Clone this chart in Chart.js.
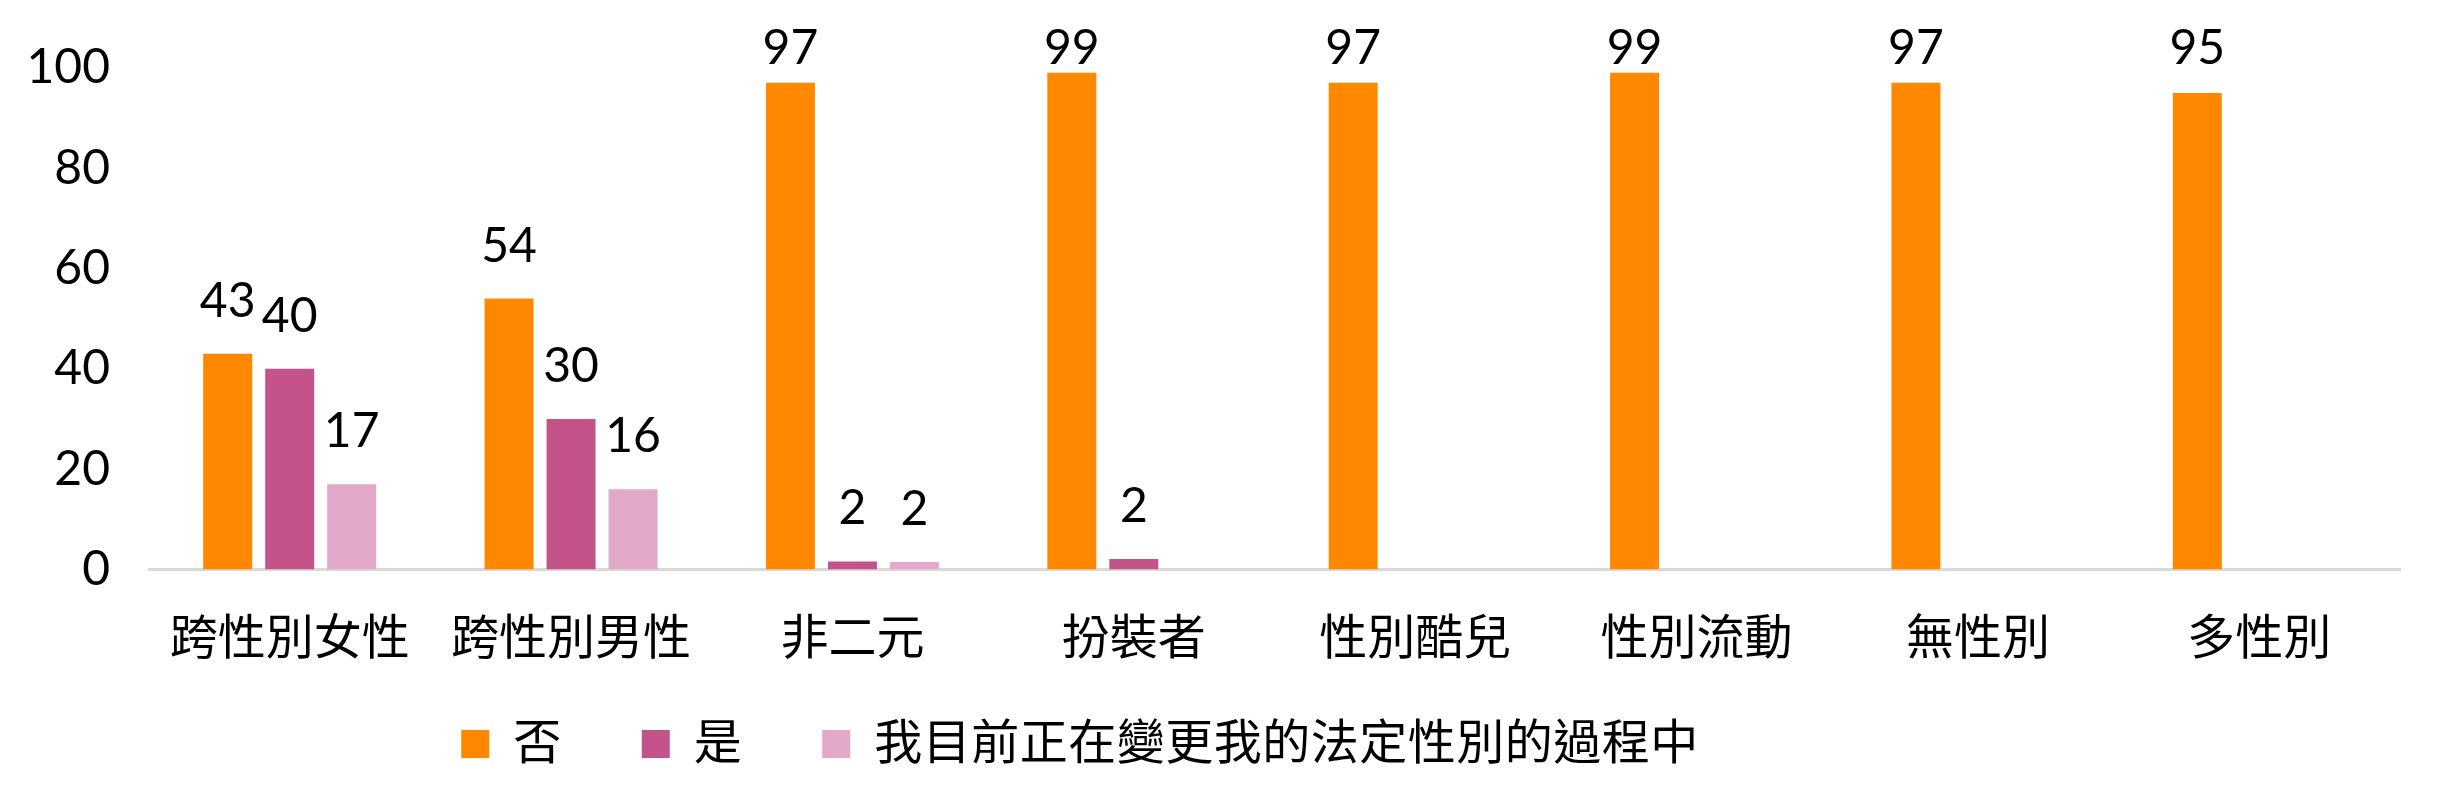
<!DOCTYPE html>
<html>
<head>
<meta charset="utf-8">
<script src="https://cdn.jsdelivr.net/npm/chart.js@4.4.1/dist/chart.umd.min.js"></script>
<style>
  html, body { margin: 0; padding: 0; background: #ffffff; }
  #wrap { width: 2440px; height: 807px; position: relative; }
</style>
</head>
<body>
<div id="wrap"><canvas id="c"></canvas></div>
<script>
// ---- data ----
const categories = ['跨性別女性', '跨性別男性', '非二元', '扮裝者', '性別酷兒', '性別流動', '無性別', '多性別'];
const seriesNames = ['否', '是', '我目前正在變更我的法定性別的過程中'];
const valuesNo = [43, 54, 97, 99, 97, 99, 97, 95];
const valuesYes = [40, 30, 1.6, 2.1, null, null, null, null];
const valuesInProcess = [17, 16, 1.5, null, null, null, null, null];
const yTickValues = [0, 20, 40, 60, 80, 100];

// ---- styles ----
const seriesColors = ['#FF8800', '#C4538A', '#E2A9C9'];
const FONT_FAMILY = 'Lato, "Noto Sans CJK TC", "Noto Sans", sans-serif';
const FONT_SIZE = 48;

const valueLabels = {
  id: 'valueLabels',
  afterDatasetsDraw(chart) {
    const ctx = chart.ctx;
    ctx.save();
    ctx.font = FONT_SIZE + 'px ' + FONT_FAMILY;
    ctx.fillStyle = '#000000';
    ctx.textAlign = 'center';
    ctx.textBaseline = 'alphabetic';
    chart.data.datasets.forEach((ds, i) => {
      const meta = chart.getDatasetMeta(i);
      meta.data.forEach((bar, j) => {
        const v = ds.data[j];
        if (v === null || v === undefined) return;
        const y = Math.max(bar.y - 37, chart.chartArea.top - 4);
        ctx.fillText(String(Math.round(v)), bar.x, y);
      });
    });
    ctx.restore();
  }
};

const legendSpacing = {
  id: 'legendSpacing',
  afterInit(chart) {
    const lg = chart.legend;
    if (!lg) return;
    ['fit', 'draw'].forEach(name => {
      const orig = lg[name];
      lg[name] = function (...args) {
        const c = this.ctx;
        const prev = c.letterSpacing;
        c.letterSpacing = '0.5px';
        try { return orig.apply(this, args); }
        finally { c.letterSpacing = prev || '0px'; }
      };
    });
  },
  afterLayout(chart) {
    const lg = chart.legend;
    if (!lg) return;
    lg.left -= 120;
    lg.right -= 120;
    lg.top -= 27.5;
    lg.bottom -= 27.5;
  }
};

new Chart(document.getElementById('c'), {
  type: 'bar',
  data: {
    labels: categories,
    datasets: [
      { label: seriesNames[0], data: valuesNo, backgroundColor: seriesColors[0] },
      { label: seriesNames[1], data: valuesYes, backgroundColor: seriesColors[1] },
      { label: seriesNames[2], data: valuesInProcess, backgroundColor: seriesColors[2] }
    ]
  },
  options: {
    responsive: true,
    maintainAspectRatio: false,
    devicePixelRatio: 1,
    animation: false,
    events: [],
    categoryPercentage: 0.661,
    barPercentage: 0.79,
    layout: { padding: { top: 61, right: 40, bottom: 1.5, left: 0 } },
    plugins: {
      tooltip: { enabled: false },
      legend: {
        position: 'bottom',
        align: 'center',
        labels: {
          boxWidth: 28,
          boxHeight: 28,
          padding: 80,
          color: '#000000',
          font: { family: FONT_FAMILY, size: FONT_SIZE }
        }
      }
    },
    scales: {
      x: {
        grid: { display: false, drawTicks: false },
        border: { display: true, color: '#D9D9D9', width: 3 },
        ticks: {
          color: '#000000',
          font: { family: FONT_FAMILY, size: FONT_SIZE },
          padding: 40,
          maxRotation: 0,
          minRotation: 0,
          autoSkip: false
        },
        afterFit(scale) { scale.height = 98; }
      },
      y: {
        min: 0,
        max: 100,
        grid: { display: false, drawTicks: false },
        border: { display: false },
        afterBuildTicks(scale) { scale.ticks = yTickValues.map(v => ({ value: v })); },
        ticks: {
          color: '#000000',
          font: { family: FONT_FAMILY, size: FONT_SIZE },
          padding: 39
        },
        afterFit(scale) { scale.width = 149; }
      }
    }
  },
  plugins: [valueLabels, legendSpacing]
});
</script>
</body>
</html>
